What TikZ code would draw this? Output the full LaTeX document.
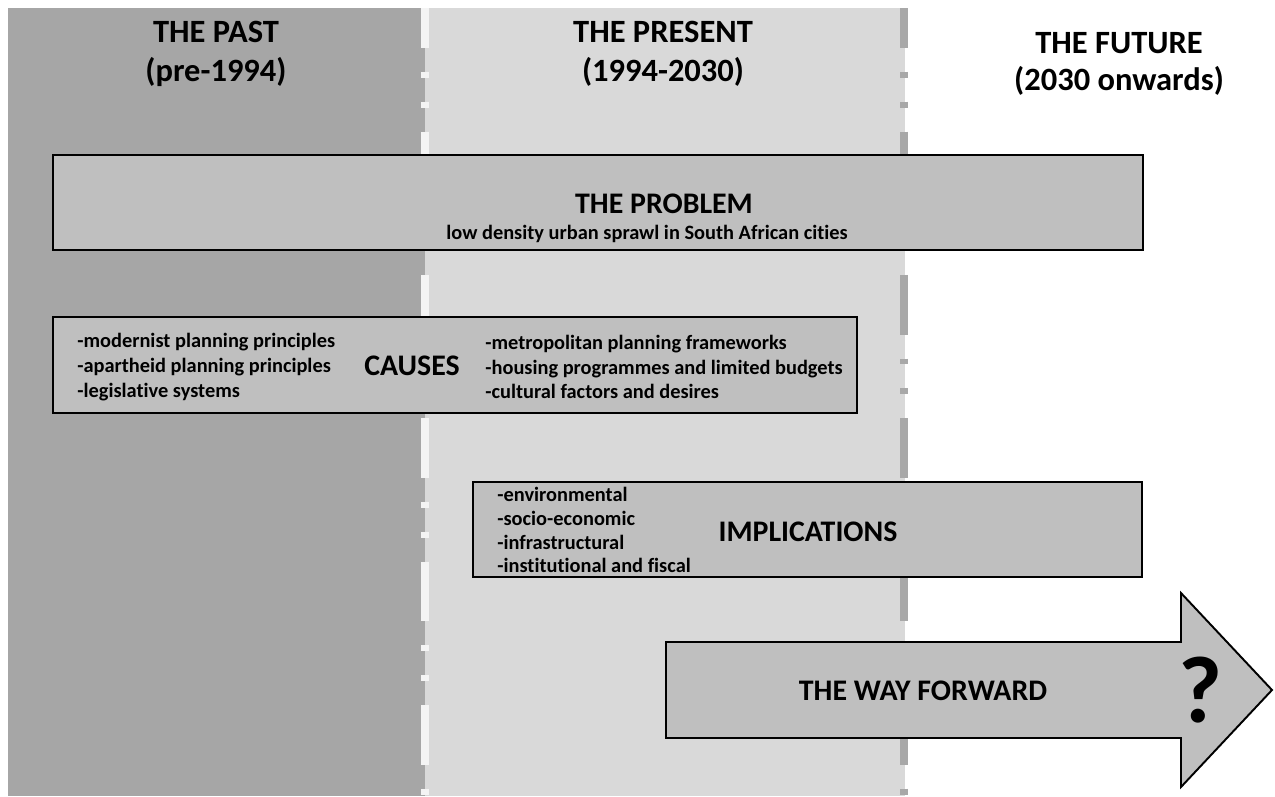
\documentclass[tikz,border=0pt]{standalone}
\usepackage{fontspec}
\setmainfont{Carlito}[Ligatures=NoCommon]
\usetikzlibrary{fit}
\definecolor{pastgrey}{HTML}{A6A6A6}
\definecolor{presgrey}{HTML}{D9D9D9}
\definecolor{boxgrey}{HTML}{BFBFBF}
\definecolor{dashwhite}{HTML}{F4F4F4}
\definecolor{dashgrey}{HTML}{A8A8A8}
\begin{document}
\begin{tikzpicture}[x=0.02cm,y=-0.02cm,
  box/.style={draw=black,line width=1.1pt,fill=boxgrey,inner sep=0pt},
  divider/.style={line width=4pt,dash pattern=on 34pt off 13.6pt on 3.4pt off 13.6pt on 3.4pt off 13.6pt,dash phase=11.3pt},
  hdr/.style={font=\fontsize{18.5}{22}\selectfont\bfseries,anchor=base,inner sep=0pt},
  ttl/.style={font=\fontsize{17}{20}\selectfont\bfseries,anchor=base,inner sep=0pt},
  sub/.style={font=\fontsize{11.6}{13}\selectfont\bfseries,anchor=base,inner sep=0pt},
  lst/.style={font=\fontsize{11.6}{14}\selectfont\bfseries,align=left,anchor=west,inner sep=0pt}]
\useasboundingbox (0,0) rectangle (1275,796);
\fill[white] (0,0) rectangle (1275,796);
\fill[pastgrey] (8,8) rectangle (425,796);
\fill[presgrey] (425,8) rectangle (905,796);
\coordinate (d1top) at (425,8);
\coordinate (d1bot) at (425,796);
\coordinate (d2top) at (904,8);
\coordinate (d2bot) at (904,796);
\draw[divider,draw=dashwhite] (d1top) -- (d1bot);
\draw[divider,draw=dashgrey] (d2top) -- (d2bot);
% headers
\node[hdr] (past1) at (216,42) {THE PAST};
\node[hdr] (past2) at (216,81) {(pre-1994)};
\node[hdr] (pres1) at (663,42) {THE PRESENT};
\node[hdr] (pres2) at (663,81) {(1994-2030)};
\node[hdr] (fut1) at (1119,53) {THE FUTURE};
\node[hdr] (fut2) at (1119,90) {(2030 onwards)};
% problem
\node[box,fit={(53,155) (1143,250)}] (problem) {};
\node[ttl] (problemtitle) at (664,213) {THE PROBLEM};
\node[sub] (problemsub) at (647,239) {low density urban sprawl in South African cities};
% causes
\node[box,fit={(53,317) (857,413)}] (causes) {};
\node[ttl] (causestitle) at (412,375) {CAUSES};
\node[lst] (causesleft) at (77,367) {-modernist planning principles\\-apartheid planning principles\\-legislative systems};
\node[lst] (causesright) at (485,367) {-metropolitan planning frameworks\\-housing programmes and limited budgets\\-cultural factors and desires};
% implications
\node[box,fit={(473,482) (1142,577)}] (impl) {};
\node[ttl] (impltitle) at (808,541) {IMPLICATIONS};
\node[lst,font=\fontsize{11.6}{13.6}\selectfont\bfseries] (impllist) at (497,530) {-environmental\\-socio-economic\\-infrastructural\\-institutional and fiscal};
% way forward arrow
\coordinate (wfa) at (666,642);
\coordinate (wfb) at (1181,642);
\coordinate (wfc) at (1181,593);
\coordinate (wfd) at (1272,690);
\coordinate (wfe) at (1181,787);
\coordinate (wff) at (1181,738);
\coordinate (wfg) at (666,738);
\draw[box,line join=miter] (wfa) -- (wfb) -- (wfc) -- (wfd) -- (wfe) -- (wff) -- (wfg) -- cycle;
\node[ttl] (waytitle) at (923,700) {THE WAY FORWARD};
\node[font=\fontsize{54}{60}\selectfont\bfseries,anchor=base,inner sep=0pt] (qmark) at (1200,722) {?};
\end{tikzpicture}
\end{document}
